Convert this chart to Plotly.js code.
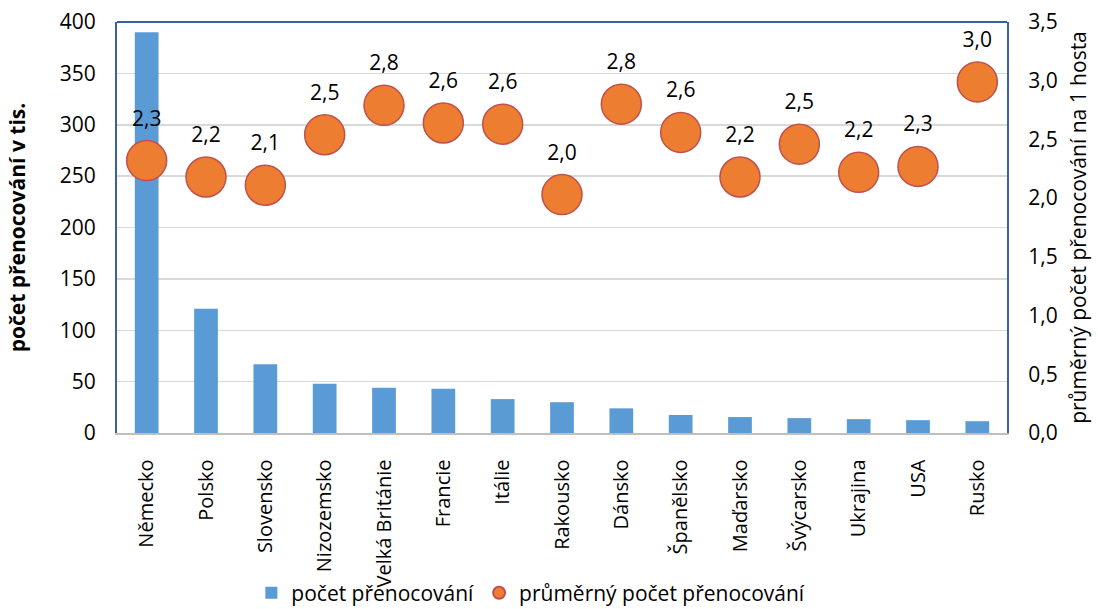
<!DOCTYPE html>
<html>
<head>
<meta charset="utf-8">
<script src="https://cdn.plot.ly/plotly-3.0.1.min.js"></script>
<style>html,body{margin:0;padding:0;background:#fff;}#chart{width:1098px;height:609px;}</style>
</head>
<body>
<div id="chart"></div>
<script>
var countries = ["Německo","Polsko","Slovensko","Nizozemsko","Velká Británie","Francie","Itálie","Rakousko","Dánsko","Španělsko","Maďarsko","Švýcarsko","Ukrajina","USA","Rusko"];
var nights = [390, 121, 67, 48, 44, 43, 33, 30, 24, 17.5, 15.5, 14.5, 13.5, 12.5, 11.5];
var avgNights = [2.32, 2.18, 2.11, 2.54, 2.79, 2.64, 2.63, 2.03, 2.80, 2.56, 2.18, 2.46, 2.22, 2.27, 2.99];
var avgLabels = ["2,3","2,2","2,1","2,5","2,8","2,6","2,6","2,0","2,8","2,6","2,2","2,5","2,2","2,3","3,0"];

var FONT = "Open Sans, Noto Sans, sans-serif";
var FS = 21;

var traces = [
  {
    type: "bar", name: "počet přenocování", x: countries, y: nights,
    marker: {color: "#5B9BD5"}, yaxis: "y"
  },
  {
    type: "scatter", mode: "markers", name: "průměrný počet přenocování",
    x: countries, y: avgNights, yaxis: "y2",
    marker: {size: 40, color: "#ED7D31", line: {color: "#C0504D", width: 1.5}}
  },
  {
    type: "scatter", mode: "markers+text", showlegend: false, hoverinfo: "skip",
    x: countries, y: avgNights, yaxis: "y2", text: avgLabels,
    textposition: "top center", textfont: {size: FS, color: "#000", family: FONT},
    marker: {size: 46, color: "rgba(0,0,0,0)"}
  }
];

var layout = {
  width: 1098, height: 609,
  margin: {l: 117, r: 91, t: 22, b: 176},
  paper_bgcolor: "#fff", plot_bgcolor: "#fff",
  font: {family: FONT, size: FS, color: "#000"},
  separators: ", ",
  bargap: 0.6,
  showlegend: true,
  legend: {orientation: "h", xref: "paper", x: 0.465, xanchor: "center",
           yref: "container", y: 0.026, yanchor: "middle", bgcolor: "rgba(0,0,0,0)",
           itemsizing: "constant", font: {size: FS}, traceorder: "normal"},
  xaxis: {
    range: [-0.5, 14.5], autorange: false,
    tickangle: -90, showline: true, linecolor: "#BFBFBF", linewidth: 1.5,
    ticks: "", tickfont: {size: 20}, showgrid: false, ticklabelstandoff: 17, automargin: false
  },
  yaxis: {
    range: [0, 400], dtick: 50, showgrid: true, gridcolor: "#D9D9D9", gridwidth: 1.5,
    showline: true, linecolor: "#3B5FA3", linewidth: 2, ticks: "", zeroline: false,
    title: {text: "<b>počet přenocování v tis.</b>", font: {size: FS}, standoff: 28},
    tickfont: {size: FS}, ticklabelstandoff: 15, automargin: false
  },
  yaxis2: {
    range: [0, 3.5], dtick: 0.5, tickformat: ".1f", overlaying: "y", side: "right",
    showgrid: false, showline: true, linecolor: "#3B5FA3", linewidth: 2, ticks: "", zeroline: false,
    title: {text: "průměrný počet přenocování na 1 hosta", font: {size: FS}, standoff: 15},
    tickfont: {size: FS}, ticklabelstandoff: 15, automargin: false
  },
  shapes: [
    {type: "line", xref: "paper", yref: "paper", x0: 0, x1: 1, y0: 1, y1: 1,
     line: {color: "#3B5FA3", width: 2}}
  ]
};

Plotly.newPlot("chart", traces, layout, {displayModeBar: false, staticPlot: true});
</script>
</body>
</html>
